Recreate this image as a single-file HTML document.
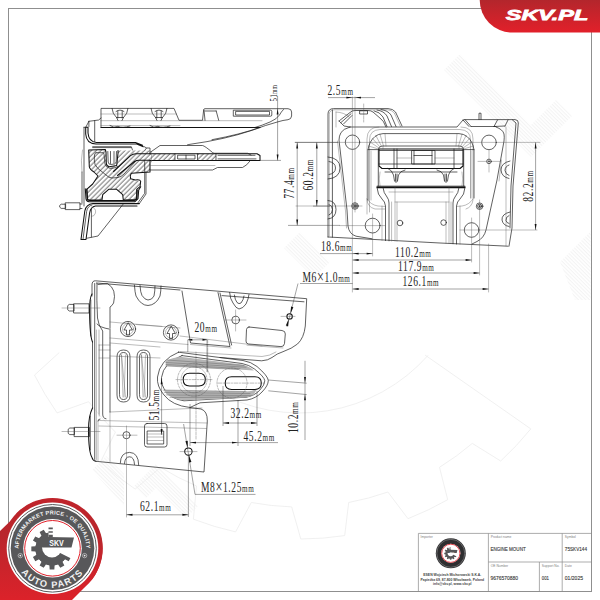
<!DOCTYPE html>
<html><head><meta charset="utf-8"><title>SKV 75SKV144 Engine Mount</title>
<style>
html,body{margin:0;padding:0;background:#fff;}
body{width:600px;height:600px;overflow:hidden;position:relative;font-family:"Liberation Sans",sans-serif;}
svg{position:absolute;left:0;top:0;display:block;}
.d{fill:none;stroke:#1c1c1c;stroke-width:0.7;stroke-linecap:round;stroke-linejoin:round;}
.t{fill:none;stroke:#555;stroke-width:0.4;stroke-linecap:round;stroke-linejoin:round;}
.h{fill:none;stroke:#111;stroke-width:1.05;stroke-linecap:round;stroke-linejoin:round;}
.dim{fill:none;stroke:#333;stroke-width:0.45;}
.ar{fill:#111;stroke:none;}
.dt{font-family:"Liberation Serif",serif;fill:#222;}
.wm{fill:none;stroke:#ececec;stroke-width:0.8;}
</style></head><body>
<svg width="600" height="600" viewBox="0 0 600 600">
<defs>
<linearGradient id="rg" x1="0" y1="0" x2="0" y2="1"><stop offset="0" stop-color="#b3262c"/><stop offset="1" stop-color="#e2202a"/></linearGradient>
<linearGradient id="rg2" x1="0" y1="498" x2="0" y2="600" gradientUnits="userSpaceOnUse"><stop offset="0" stop-color="#c0242b"/><stop offset="0.35" stop-color="#b8262c"/><stop offset="1" stop-color="#dc222a"/></linearGradient>
<pattern id="hat" width="3.400" height="3.400" patternUnits="userSpaceOnUse" patternTransform="rotate(45)"><line x1="1" y1="-1" x2="1" y2="5" stroke="#222" stroke-width="0.650"/></pattern>
<path id="arcTop" d="M18.700,548.300 A33.800,33.800 0 0 1 86.300,548.300"/>
<path id="arcBot" d="M13,548.3 A39.500,39.500 0 0 0 92,548.3"/>
</defs>
<!--WATERMARK-->
<g id="wm">
<clipPath id="fc"><rect x="9" y="9" width="581.500" height="581.500"/></clipPath>
<pattern id="wh" width="2.600" height="2.600" patternUnits="userSpaceOnUse" patternTransform="rotate(45)"><line x1="0" y1="0.600" x2="2.600" y2="0.600" stroke="#f0f0f0" stroke-width="0.800"/></pattern>
<g clip-path="url(#fc)">
<path class="wm" d="M425,355 L530.8,428.9 A297,297 0 0 1 500.7,461.0 L472.3,443.4 A265,265 0 0 1 439.5,467.3 L447.7,499.7 A297,297 0 0 1 408.0,518.7 L387.9,492.0 A265,265 0 0 1 348.7,502.5 L344.7,535.6 A297,297 0 0 1 300.8,539.0 L291.7,506.9 A265,265 0 0 1 251.3,502.5 L235.6,531.9 A297,297 0 0 1 193.4,519.2 L196.5,486.0 A265,265 0 0 1 160.5,467.3 L135.2,489.1 A297,297 0 0 1 100.5,462.0 L115.4,432.1 A265,265 0 0 1 88.6,401.7 L57.1,412.9 A297,297 0 0 1 34.5,375.1 L59.2,352.6 "/>
<path class="wm" d="M428.1,355.3 A171,171 0 0 1 214.5,390.1"/>
<path d="M444,70 L460,54 L531,125 L556,100 L572,116 L531,157 Z" fill="url(#wh)"/>
<path d="M560,262 L591,231 V300 L575,300 Z" fill="url(#wh)"/>
<path d="M300,232 L330,262 L314,278 L284,248 Z" fill="url(#wh)"/>
<path d="M92,470 L106,456 L124,474 L124,506 Z M134,486 L156,464 L198,506 L186,518 L156,488 L146,498 Z" fill="url(#wh)"/>
</g></g>
<!--/WATERMARK-->
<!--FRAME-->
<g id="frame">
<rect x="8.500" y="8.500" width="583" height="583" fill="none" stroke="#8f8f8f" stroke-width="1"/>
</g>
<!--VIEW1-->
<g id="view1">
<!-- rubber body hatched -->
<path d="M88.700,150 L105.300,149.500 L106,152 L106.300,163.300 L109.300,166.700 L116.700,165.500 L118,153.300 L118,150.500 L150,150.500 L150,172 L131.300,173.300 L130.700,178.700 L135.300,180 L140.700,181.300 L140,186.700 L136.700,189.300 L136.700,199.500 L123.300,200 L122.700,194.700 L116.700,189.300 L108.700,189.300 L102.700,194.700 L102,200 L87.300,200 L86.700,189.300 L92.700,184 L98,176 L94,172 L89.300,166.700 Z" fill="url(#hat)" stroke="none"/>
<path class="h" d="M88.700,150 L105.300,149.500 L106,152 L106.300,163.300 Q106.500,166.500 109.300,166.700 L116.700,165.500 L118,153.300 L118,150.500 M150,160.500 L150,172 L131.300,173.300 Q129.500,176 130.700,178.700 L135.300,180 Q140,179 140.700,181.300 L140,186.700 L136.700,189.300 L136.700,199.500 L123.300,200 L122.700,194.700 L116.700,189.300 L108.700,189.300 L102.700,194.700 L102,200 L87.300,200 L86.700,189.300 L92.700,184 L98,176 L94,172 Q89.500,169 89.300,166.700 L88.700,150"/>
<!-- cavity insert -->
<path class="d" d="M107.800,151.500 L108.200,162 Q108.500,164.500 110.500,164.500 L114.500,164 Q116,163.500 116.200,161.500 L116.500,151.500 M110.500,151.500 V163.500 M114,151.500 V163.200"/>
<!-- inner contour of upper-left arm -->
<path class="d" d="M96,152.700 H103.500 L104,154 L105,164 Q105.500,167 109.700,168.300 Q113,169 118,166.500"/>
<path class="d" d="M96,152.700 Q94.500,153 94.500,155 L94.300,160 Q94,165 98,168.500 L106,175 Q109,178 112,178 L118,177.500 Q121,177 124,174 L136,160.800 Q138.500,158.500 142,158.500"/>
<!-- diagonal metal band (white background) -->
<path d="M150,153.700 L136,153.700 Q133,153.700 130.500,155.700 L113.500,171.500 L117.500,175.500 L134.500,161.500 Q136.500,160.200 139,160.200 L150,160.200 Z" fill="#fff" stroke="none"/>
<path d="M150,153.700 L136,153.700 Q133,153.700 130.500,155.700 L113.500,171.500 L117.500,175.500 L134.500,161.500 Q136.500,160.200 139,160.200 L150,160.200 Z" fill="url(#hat)" stroke="none"/>
<path class="h" d="M150,153.700 L136,153.700 Q133,153.700 130.500,155.700 L113.500,171.500 M117.500,175.500 L134.500,161.500 Q136.500,160.200 139,160.200 L150,160.200"/>
<!-- upper cup sheet -->
<path class="h" d="M85.700,127.300 V134 Q86.300,143.600 96,144 H136.700 L143.300,146.700 M88,127.300 V133 Q88.700,141.800 96.500,142.400 H135.500 L142.500,145.200 M85.700,127.300 H88"/>
<path class="d" d="M92.700,146.700 H131.300 L132.500,150 M92.700,147.600 H131 M144,146.500 L146.500,148 H150 V153.500"/>
<path class="d" d="M146.500,148 L144.700,150.500"/>
<!-- back plate -->
<path class="d" d="M84,127.300 V206 M84,127.300 L85.700,127.300 M82,203 V172 M88.900,121.300 V126.500 M88.900,121.300 L98.700,120 L101,118 M86,126.800 L88.900,121.300 M94.700,120.600 V141.500"/>
<path class="t" d="M82.500,150 Q80.500,160 82,172"/>
<!-- top bracket -->
<path class="h" d="M101,127.500 H260"/>
<path class="d" d="M101,127.500 V108.400 H174 L179,120.300 H202.500 L203.700,109.500 Q204,108.700 205,108.700 H288 Q291.600,108.900 291.600,112 V116 Q291.300,119.300 288,119.700 Q283,120.200 278,121.800 Q266,125 252,130.300 Q225,139.500 190,144.300 L187.500,144.800"/>
<path class="d" d="M283.500,109.500 Q281,112 279.500,115 Q277,119 270,122 Q262,125.500 255,127.500 M260,127.500 Q240,134.500 212,139.700"/>
<path class="t" d="M101,114 H176.500 M101,120.700 H262 M101,125.600 H180"/>
<path class="d" d="M233.700,110.200 H270.500 Q271.800,110.200 271.800,111.500 V115 Q271.800,116.200 270.500,116.200 H233.700 Z M236,111.400 H269.500 V115 H236 Z"/>
<path class="d" d="M204,110 L205,120.300 M216.200,111 L218.700,120.300 M205,111 H216.200"/>
<!-- clips -->
<path class="d" d="M112,108.400 Q112.500,114 116.500,117.500 L118,120.500 M128,108.400 Q127.500,114 123.500,117.500 L122,120.500 M117.800,111 V118 M122.200,111 V118 M116,111.500 Q120,108.500 124,111.500 M116.500,117.500 H123.500"/>
<path class="d" d="M151,108.400 Q151.500,114 155.500,117.500 L157,120.500 M167,108.400 Q166.500,114 162.500,117.500 L161,120.500 M156.800,111 V118 M161.200,111 V118 M155,111.500 Q159,108.500 163,111.500 M155.500,117.500 H162.500"/>
<path class="d" d="M110,125.600 Q114,128.500 118,126.300 Q122,128.500 130,126 M150,125.600 Q154,128.500 158,126.300 Q162,128.500 170,126"/>
<!-- plate + covers -->
<path d="M150,153.750 H175 V160.500 H150 Z M197.500,153.750 H216 V160.500 H197.500 Z" fill="url(#hat)" stroke="none"/>
<path class="h" d="M150,153.750 H257 L260,155.500 V160.500 H150"/>
<path class="d" d="M175,153.750 V160.500 M197.500,153.750 V160.500 M216,153.750 V160.500 M178,155.200 H195 V159 H178 Z M186,155.200 V159 M218,155.300 H255 M218,158.900 H256"/>
<path class="d" d="M150,152.500 L160,145.500 H202.500 Q205,146 212.500,152.500 L214,153.250 H247.500 L251,155"/>
<path class="d" d="M150,170 H212.500 L217.500,167.500 H242.500 Q247,165.500 250,161"/>
<path class="t" d="M150,165.500 H215 M150,151.500 H151.500 V162 H150"/>
<!-- lower cup sheet -->
<path class="h" d="M85.300,188.700 L86,198.700 Q86.300,201.500 89,201.700 H135 L138,198.700 L138.700,190 L140.700,186.700 M86.900,189 L87.500,198.500 Q87.800,200.300 89.500,200.500 H134.500 L136.700,198 L137.300,190"/>
<!-- outer L bracket -->
<path class="d" d="M144.700,160.500 V193.300 L138,202.700 M146,172 V194 L139.300,203.600"/>
<path class="h" d="M139.300,203.600 H93 Q86,204.500 84.800,211 L81,239.500 H86 L89.600,213 Q90.500,207 95.500,206 H137"/>
<path class="d" d="M92,205 Q87.500,206 86.600,211.500 L83,239.500"/>
<path class="d" d="M123,204.400 L98,236 L86.500,238.300 M91.400,209 V237"/>
<path class="t" d="M91.400,207 Q96.500,208 95.500,213 Q94.500,216.500 91.400,216.500"/>
<!-- stud -->
<path class="d" d="M60,205.200 L61.200,204.200 H65.600 V208.400 H61.200 L60,207.400 Z M65.600,202.800 H80 V209.600 H65.600 Z M80,204 H82 M80,208.500 H82"/>
</g>
<!--/VIEW1-->
<!--VIEW2-->
<g id="view2">
<!-- outer back plate outline -->
<path class="d" d="M328,237 V114 Q328,108.800 333.500,108.600 H388 Q393,108.800 395.500,112 L402,126"/>
<path class="t" d="M329.300,236 V114.500 Q329.300,110 334,109.800 H387.500 Q392,110 394.300,113 L400.500,126.500"/>
<path class="d" d="M332.400,110 V237.200"/>
<path class="t" d="M336,112 V127 M336,112 Q345,112.500 349,117"/>
<path class="d" d="M328,237 L440,243 L508,246.200"/>
<!-- top-left gusset lines -->
<path class="d" d="M339,121 L350,112.500 Q352,110.500 355,110.500 H368 Q371,110.500 373,112 L381,119 Q384,121.500 385,125 L386,127"/>
<path class="d" d="M341,122.500 L351,113.800 M343.500,124 L352,115.500 M374,110.800 Q380,112 383,117 L387,126.500 M377,110 Q384,111 387,116 L391.500,126.500 M381,109.500 Q388,110.500 391,115 L396,126.500"/>
<path class="d" d="M339,121 L344,126 L350,127"/>
<path class="d" d="M360,110.800 H367.500 V114 H360 Z"/><path class="t" d="M363.700,104 V122" stroke-dasharray="3 1"/>
<!-- plate top line -->
<path class="d" d="M350,127 H457 L463,120 Q464,119.600 465,119.600 H515 Q518.500,119.800 518.300,123 L513,186 L512,228 L509,246.200"/>
<path class="d" d="M512.500,120 L516,123 L511,186 L510,228"/>
<path class="t" d="M506,127 V245.800"/>
<!-- right top details -->
<path class="d" d="M463,120 L469,126.500 M465,119.600 L471,126.500 M471,126.500 H496 M497.500,120 L494,126.500 M508,120 L505,126 M494,126.500 L505,126 M479,119.600 V113.200 H481 V119.600"/>
<!-- inner plate outline -->
<path class="d" d="M350,127 Q343,129 341,132.500 Q339,136 339,140 L347,210 L348,226 Q349,234 356,236.200 L372,238.800"/>
<path class="d" d="M496,127 Q503,129.500 504,134 Q504.500,137 504,141 L497,180 L486,230 Q484,238 477,241.500 L472,244"/>
<path class="t" d="M337.500,141 L345.500,211 L346.500,228 M499,181 L501.500,160"/>
<!-- holes -->
<circle class="d" cx="352.500" cy="142.200" r="7.200"/>
<circle class="d" cx="489" cy="142.400" r="7.300"/>
<circle class="d" cx="372.600" cy="225.600" r="7.400"/>
<circle class="d" cx="471.600" cy="230" r="7.300"/>
<circle class="d" cx="400" cy="223" r="2.800"/>
<circle class="d" cx="443.600" cy="222.600" r="2.800"/>
<circle class="d" cx="355" cy="206" r="3.300"/><circle class="d" cx="355" cy="206" r="2"/><circle cx="355" cy="206" r="1" fill="#222"/>
<circle class="d" cx="479.600" cy="206.200" r="3.300"/><circle class="d" cx="479.600" cy="206.200" r="2"/><circle cx="479.600" cy="206.200" r="1" fill="#222"/>
<circle class="d" cx="489" cy="161.400" r="2.300"/><circle cx="489" cy="161.400" r="0.800" fill="#222"/>
<!-- ears -->
<path class="d" d="M328,157 Q340,158 340,168 Q340,178 328,179 M329,161.500 Q335.500,162.500 335.500,168 Q335.500,173.500 329,174.500"/>
<path class="d" d="M328,200.500 Q336,201 336,209.500 Q336,218 328,219 M329,204.500 Q332.500,205.500 332.500,209.500 Q332.500,214 329,215"/>
<path class="d" d="M510,161 Q501,163 501,170 Q501.500,177 509,178.500 M509,165 Q505,166.500 505,170.500 Q505.500,174.500 509,175.500"/>
<path class="d" d="M510,212 Q501.500,214 502,220 Q503,225.500 509,226.500 M509,215.500 Q505.500,217 506,220.500 Q506.500,223 509,223.500"/>
<!-- embossed outer window -->
<path class="t" d="M367,214 V139 Q367,127 379,127 M461,127 Q473,127 473,139 V200 Q472,207 466,209 M367,199 Q367,207 375,209 L385,209"/>
<path class="t" d="M369.500,212 V140 Q369.500,130 380,129.500 H460 Q470.500,130 470.500,140 V198"/>
<!-- flared ring -->
<path class="d" d="M368,200 V150 Q369,141.500 375,136.500 Q378,134 383,133.600 H459 Q464,134 467,136.500 Q473,141.500 474,150 V198"/>
<path class="d" d="M368,149.600 H378.300 M474,149.600 H463.700"/>
<path class="d" d="M378.300,186 V150.500 Q378.300,146 383,146 H459 Q463.700,146 463.700,150.500 V186"/>
<path class="t" d="M368.500,146 L378.500,149 M370,142 L379,148 M372.500,138.500 L380,147 M376,135.800 L381.500,146.300 M380,134.200 L383.500,146 M385,133.600 L386,146 M473.500,146 L463.500,149 M472,142 L463,148 M469.500,138.500 L462,147 M466,135.800 L460.500,146.300 M462,134.200 L458.500,146 M457,133.600 L456,146"/>
<path class="t" d="M371,200 V151 M471,198 V151"/>
<!-- core block -->
<path class="h" d="M379,149 H463 V166 L460,168.500 H382 L379,166 Z"/>
<path class="d" d="M379,150.500 H463 M394,149 V168.500 M397,149 V168.500 M412,150.500 H435 V164 H412 Z M414,150.500 V164 M432,150.500 V164 M454,149 V168.500 M379,164 H463 M414,155.500 H432"/>
<path class="t" d="M383,146 V149 M459,146 V149 M397,158 H412 M435,158 H454"/>
<!-- clips below core -->
<path class="d" d="M385,172 H457 M388,168.500 Q392,170 393.500,175 L394.500,181 Q396,184 397.500,181 L398.500,175 Q400,171 405,170 M395.500,174 V181 M397,174 V181"/>
<path class="d" d="M454,168.500 Q450,170 448.500,175 L447.500,181 Q446,184 444.500,181 L443.500,175 Q442,171 437,170 M446.500,174 V181 M445,174 V181"/>
<path class="t" d="M380,172 Q378.500,179 380,186 M462,172 Q463.500,179 462,186"/>
<!-- base flange -->
<path class="h" d="M377,186.300 H465 M377,187.600 H465"/>
<path class="d" d="M377,187.600 Q377.500,195 382,199 Q385,201.500 385.500,206 V240.600 M465,187.600 Q464.500,195 460,199 Q457,201.500 456.500,206 V244"/>
<path class="d" d="M383,187.600 Q383.500,193 387,197 Q389,199.500 389,203 V240.800 M459,187.600 Q458.500,193 455,197 Q453,199.500 453,203 V243.700"/>
<path class="t" d="M389,192 H453 M395,202 H449 M395,187.600 V241 M391.600,202 V241 M397,202 V241.200 M449,187.600 V243.500 M451,202 V243.600 M446,202 V243.400 M460,206 V244.200 M382,206 V240.500"/>
<path class="t" d="M367,199 Q371,205 378,206 L385.500,206.500 M473,199 Q469,205 462,206 L456.500,206.500"/>
<!-- centerlines -->
<path class="t" d="M352.400,97 V292 M355,97 V212 M295,142.400 H540 M296,206 H362 M340,225.600 H385 M372.600,214 V256 M471.600,218 V262 M479.600,200 V275 M488.600,244 V292 M460,230 H537 M489,150 V172 M478,161.400 H500"/>
</g>
<!--/VIEW2-->
<!--VIEW3-->
<g id="view3">
<!-- outer outline -->
<path class="d" d="M92.500,342 V408 M92,296 V285 Q92,280.600 95.500,280.800 L306.700,298.700 L305.300,326 Q304,338 297.500,344 Q292,348.500 283,351.700 Q277,353.500 272,357.500 Q268,360.500 261.700,360.800 L220,357.500"/>
<path class="d" d="M94.700,283.500 V459.500 M96.400,283 L180,290 M222,295.600 L304,301.800"/>
<path class="d" d="M97,283.500 Q96.500,300 97.500,318 Q98.500,326 102.700,331 V414 Q102.700,418.500 106,418.800"/>
<path class="t" d="M96.400,330 V459.500 M99.200,345 V416"/>
<path class="h" d="M92,294 Q89.300,298 89.600,312 Q89.800,336 92.500,342"/>
<path class="d" d="M90.800,300 V336"/>
<path class="h" d="M92.500,408 Q88.500,416 88.500,430 Q88.600,452 92,457.500 Q92.500,460.500 96,461.300"/>
<path class="d" d="M90.300,416 V450"/>
<!-- studs -->
<path class="d" d="M68,305.400 L69.300,304.400 H74 V311 H69.300 L68,310 Z M74,303.800 H89 V313 H74 Z"/>
<path class="d" d="M68.500,429 L69.800,428 H74.500 V434.600 H69.800 L68.500,433.600 Z M74.500,427.400 H89.500 V436.600 H74.500 Z"/>
<path class="t" d="M62,308 H100 M62,431.500 H100"/>
<!-- top-left lobe -->
<path class="d" d="M98,284.500 L107.500,283.600 Q117,289 113.600,303 Q112,306 110,307 V328 M97,324 Q100,327.500 109,329 M110,329 V412"/>
<path class="t" d="M99,330 V414 M99,345 H110 M99,350 H110 M99,358 H110"/>
<!-- U slots top -->
<path class="d" d="M134.400,285 Q135,293 136,296 Q141,305.500 148,305.500 Q156,305 160,296 Q161,291 161,286 M140,285.500 Q140.500,293 142,295.500 Q145,300 148,300 Q152,300 154,296 Q155,291 155,286"/>
<path class="d" d="M229.600,292.400 Q230,299 233,303 Q236,308.500 239,309 Q243,308.500 246,304 Q248.500,299 249,294.500 M234.400,295 Q235,300 237,302.500 Q239,304.500 241,303 Q243.500,300 244,296"/>
<!-- round clips -->
<circle class="d" cx="128" cy="329" r="7.600"/><circle class="t" cx="128" cy="329" r="5.500"/>
<path class="d" d="M128,323 L124,330 H126.500 V335 H129.500 V330 H132 Z"/>
<circle class="d" cx="171" cy="332.500" r="7.600"/><circle class="t" cx="171" cy="332.500" r="5.500"/>
<path class="d" d="M171,326.500 L167,333.500 H169.500 V338.500 H172.500 V333.500 H175 Z"/>
<!-- rib lines -->
<path class="t" d="M110,322 L180,328 M110,338 L188,344.500 M110,343 L160,347 M136,324.500 L162,326.500 M110,412 L202,408"/>
<!-- vertical slots -->
<path class="d" d="M117,356.500 Q117,350 123.500,350 Q130,350 130,356.500 V395.500 Q130,402 123.500,402 Q117,402 117,395.500 Z M119.500,357 Q119.500,352.500 123.500,352.500 Q127.500,352.500 127.500,357 V395 Q127.500,399.500 123.500,399.500 Q119.500,399.500 119.500,395 Z"/>
<path class="d" d="M137,356.500 Q137,350 143.500,350 Q150,350 150,356.500 V395.500 Q150,402 143.500,402 Q137,402 137,395.500 Z M139.500,357 Q139.500,352.500 143.500,352.500 Q147.500,352.500 147.500,357 V395 Q147.500,399.500 143.500,399.500 Q139.500,399.500 139.500,395 Z"/>
<path class="t" d="M121.500,355 L123,397 M125.500,355 L124,397 M121.500,355 L125.500,397 M141.500,355 L143,397 M145.500,355 L144,397 M141.500,355 L145.500,397"/>
<!-- panel -->
<path class="d" d="M182,291 L190.500,343 L230,346.500 L218,292.500 M220,293 L231.600,345"/>
<path class="t" d="M190.500,344.500 L231,348"/>
<!-- crosshair hole -->
<circle class="d" cx="235.600" cy="320" r="3.800"/>
<path class="t" d="M225,320 H246 M235.600,310 V331"/>
<!-- rounded window -->
<path class="d" d="M249,327 L282,330.500 Q285.500,331 285.300,334 L284.500,343.500 Q284,346.800 281,346.600 L248.500,344 Q245.800,343.500 246,341 L246.500,329.500 Q246.800,327 249,327 Z"/>
<path class="t" d="M247,345.200 L283,348"/>
<!-- M6 hole -->
<circle class="h" cx="289.600" cy="316.400" r="2.700"/>
<path class="t" d="M281,316.400 H295"/>
<!-- plate lower contour lines -->
<path class="t" d="M180,336 L262,346 M180,351.500 L262,356.500 Q270,356 276,352 M110,356 L160,358"/>
<!-- tongue -->
<path class="d" d="M178.500,352.200 L243,360.500 Q251,361.800 257,366.500 Q268,376 268.300,380.500 Q268.300,385.500 262,392 Q256,398.500 247,400 L200,402.800 L190,407.500 Q172,405.500 164,395 Q156.500,386 157.500,377 Q159.500,360 178.500,352.200 Z"/>
<path class="d" d="M182,355.600 L242,363.500 Q249,364.800 254.500,369 Q264.500,377 264.800,380.800 Q264.800,385 259.500,390.500 Q254,396 246,397.200 L184,400.800 Q172,399 166.500,392 Q160.500,385 161.500,377.500 Q163.500,362.500 182,355.600 Z"/>
<path d="M165.500,361.500 Q172,357 182,357 L242,364.500 Q249,366 254,370.500 L238,369.500 L166,366 Z" fill="#b4b4b4" stroke="none"/>
<path d="M163.500,390 L246,391.500 Q252,391.500 257.500,388.500 L253,395.500 Q248,397.500 243,397.800 L186,400.300 Q174,399.500 167,394.500 Z" fill="#b4b4b4" stroke="none"/>
<path class="t" d="M167,360 L244,365.500 M166,362.500 L246,367.200 M166,364.500 L240,368.500 M166,366 L238,369.500 M163.500,390 L246,391.500 M164.500,392.500 L250,393.500 M166,395 L252,395.500 M170,397.500 L247,397"/>
<!-- oblong holes -->
<path class="h" d="M189.600,373.200 H198.900 Q205.300,373.200 205.300,379.600 Q205.300,386 198.900,386 H189.600 Q183.200,386 183.200,379.600 Q183.200,373.200 189.600,373.200 Z"/>
<path class="h" d="M231.600,376.700 H254.900 Q261.300,376.700 261.300,383.100 Q261.300,389.500 254.900,389.500 H231.600 Q225.200,389.500 225.200,383.100 Q225.200,376.700 231.600,376.700 Z"/>
<circle class="t" cx="194" cy="379.800" r="16.500" stroke-dasharray="2 1.300"/>
<circle class="t" cx="194" cy="379.800" r="13" stroke-dasharray="2 1.300"/>
<circle class="t" cx="232" cy="383" r="15" stroke-dasharray="2 1.300"/>
<path class="t" d="M176,379.600 H212 M218,383.100 H266" stroke-dasharray="4 1.500 1 1.500"/>
<path class="t" d="M196,352 V440 M207.700,340 V372" stroke-dasharray="3 1.200"/>
<!-- lower plate -->
<path class="d" d="M96,461.300 L204,472 L207.300,421 Q207.500,411 201,409 L190,407.500"/>
<path class="t" d="M99,420.500 L207.300,423 M99,426 L206.500,428.500 M110,412 V461.500 M98,421 V460.500"/>
<path class="d" d="M98,421 Q98,419 100,419"/>
<circle class="d" cx="126.500" cy="435.200" r="3.600"/>
<path class="t" d="M117,435.200 H137 M126.500,426 V517"/>
<path class="d" d="M120.300,463 Q120.500,452.600 129.500,452.400 Q138.500,452.600 138.700,465 M124.500,463.500 Q125,456.800 129.500,456.800 Q134.200,456.800 134.500,464.500"/>
<!-- rect clip -->
<path class="d" d="M147,423.500 H164.500 Q167,423.500 167,426 V444.500 Q167,447 164.500,447 H147 Q144.500,447 144.500,444.500 V426 Q144.500,423.500 147,423.500 Z M147.500,431 H163.700 V444 H147.500 Z"/>
<path class="t" d="M147.500,434 H163.500 M147.500,437 H163.500 M147.500,440.500 H163.500"/>
<!-- M8 hole -->
<circle class="h" cx="188.400" cy="451.600" r="3.700"/>
<path class="t" d="M180,451.600 H197"/>
</g>
<!--/VIEW3-->
<!--DIMS-->
<g id="dims">
<path class="dim" d="M277.600,96 V160.400 M260,160.400 H281"/>
<path class="ar" d="M277.60,108.60 L278.55,114.60 L276.65,114.60 Z"/>
<path class="ar" d="M277.60,160.40 L276.65,154.40 L278.55,154.40 Z"/>
<text class="dt" transform="translate(276.60,101.50) rotate(-90) scale(0.720,1)" font-size="9.6" letter-spacing="0.60">51<tspan font-size="7.4">mm</tspan></text>
<path class="dim" d="M295,142.400 H338 M297.200,142.400 V225.400 M316.800,142.400 V206.100 M288,225.400 H340 M313,206.100 H330"/>
<path class="ar" d="M297.20,142.40 L298.15,148.40 L296.25,148.40 Z"/>
<path class="ar" d="M316.80,142.40 L317.75,148.40 L315.85,148.40 Z"/>
<path class="ar" d="M297.20,225.40 L296.25,219.40 L298.15,219.40 Z"/>
<path class="ar" d="M316.80,206.10 L315.85,200.10 L317.75,200.10 Z"/>
<text class="dt" transform="translate(294.00,198.80) rotate(-90) scale(0.680,1)" font-size="14.0" letter-spacing="0.90">77.4<tspan font-size="10.5">mm</tspan></text>
<text class="dt" transform="translate(313.40,190.50) rotate(-90) scale(0.680,1)" font-size="14.0" letter-spacing="0.90">60.2<tspan font-size="10.5">mm</tspan></text>
<path class="dim" d="M328,97.600 H375"/>
<path class="ar" d="M352.40,97.60 L346.40,98.55 L346.40,96.65 Z"/>
<path class="ar" d="M355.00,97.60 L361.00,96.65 L361.00,98.55 Z"/>
<text class="dt" transform="translate(327.50,95.30) scale(0.680,1)" font-size="14.0" letter-spacing="0.90">2.5<tspan font-size="10.5">mm</tspan></text>
<path class="dim" d="M535.600,142.400 V230"/>
<path class="ar" d="M535.60,142.40 L536.55,148.40 L534.65,148.40 Z"/>
<path class="ar" d="M535.60,230.00 L534.65,224.00 L536.55,224.00 Z"/>
<text class="dt" transform="translate(533.00,201.80) rotate(-90) scale(0.680,1)" font-size="14.0" letter-spacing="0.90">82.2<tspan font-size="10.5">mm</tspan></text>
<path class="dim" d="M320,253.600 H372.600"/>
<path class="ar" d="M352.60,253.60 L358.60,252.65 L358.60,254.55 Z"/>
<path class="ar" d="M372.60,253.60 L366.60,254.55 L366.60,252.65 Z"/>
<text class="dt" transform="translate(321.00,251.30) scale(0.680,1)" font-size="14.0" letter-spacing="0.90">18.6<tspan font-size="10.5">mm</tspan></text>
<path class="dim" d="M352.600,260 H471.600 M352.600,273 H479.600 M352.600,289 H488.600"/>
<path class="ar" d="M352.60,260.00 L358.60,259.05 L358.60,260.95 Z"/>
<path class="ar" d="M471.60,260.00 L465.60,260.95 L465.60,259.05 Z"/>
<path class="ar" d="M352.60,273.00 L358.60,272.05 L358.60,273.95 Z"/>
<path class="ar" d="M479.60,273.00 L473.60,273.95 L473.60,272.05 Z"/>
<path class="ar" d="M352.60,289.00 L358.60,288.05 L358.60,289.95 Z"/>
<path class="ar" d="M488.60,289.00 L482.60,289.95 L482.60,288.05 Z"/>
<text class="dt" transform="translate(395.00,257.30) scale(0.680,1)" font-size="14.0" letter-spacing="0.90">110.2<tspan font-size="10.5">mm</tspan></text>
<text class="dt" transform="translate(398.00,270.60) scale(0.680,1)" font-size="14.0" letter-spacing="0.90">117.9<tspan font-size="10.5">mm</tspan></text>
<text class="dt" transform="translate(402.40,286.40) scale(0.680,1)" font-size="14.0" letter-spacing="0.90">126.1<tspan font-size="10.5">mm</tspan></text>
<path class="dim" d="M300,283.500 H352.600"/>
<text class="dt" transform="translate(302.50,281.50) scale(0.680,1)" font-size="14.0" letter-spacing="0.90">M6<tspan style="font-size:18px" dy="1.2">×</tspan><tspan dy="-1.2">1.0</tspan><tspan font-size="10.5">mm</tspan></text>
<path class="dim" d="M187.800,339.800 H207 M187.800,339.800 V352 M207,339.800 V372"/>
<path class="ar" d="M187.80,339.80 L192.30,338.85 L192.30,340.75 Z"/>
<path class="ar" d="M207.00,339.80 L202.50,340.75 L202.50,338.85 Z"/>
<text class="dt" transform="translate(194.50,331.80) scale(0.680,1)" font-size="14.0" letter-spacing="0.90">20<tspan font-size="10.5">mm</tspan></text>
<path class="dim" d="M161.600,378.300 V435"/>
<path class="ar" d="M161.60,378.30 L162.55,384.30 L160.65,384.30 Z"/>
<path class="ar" d="M161.60,435.00 L160.65,429.00 L162.55,429.00 Z"/>
<text class="dt" transform="translate(158.60,420.50) rotate(-90) scale(0.680,1)" font-size="14.0" letter-spacing="0.90">51.5<tspan font-size="10.5">mm</tspan></text>
<path class="dim" d="M223,423 H257 M223,386 V426 M257,391 V426"/>
<path class="ar" d="M223.00,423.00 L229.00,422.05 L229.00,423.95 Z"/>
<path class="ar" d="M257.00,423.00 L251.00,423.95 L251.00,422.05 Z"/>
<text class="dt" transform="translate(230.50,418.30) scale(0.680,1)" font-size="14.0" letter-spacing="0.90">32.2<tspan font-size="10.5">mm</tspan></text>
<path class="dim" d="M190,442.600 H278 M238,400 V446 M190,404 V446"/>
<path class="ar" d="M190.00,442.60 L196.00,441.65 L196.00,443.55 Z"/>
<path class="ar" d="M238.00,442.60 L232.00,443.55 L232.00,441.65 Z"/>
<text class="dt" transform="translate(243.50,441.00) scale(0.680,1)" font-size="14.0" letter-spacing="0.90">45.2<tspan font-size="10.5">mm</tspan></text>
<path class="dim" d="M305,360.800 V440 M268.300,380 L306.700,383.200 M268.300,390.800 L306.700,394.600"/>
<path class="ar" d="M305.00,383.00 L304.05,377.00 L305.95,377.00 Z"/>
<path class="ar" d="M305.00,394.30 L305.95,400.30 L304.05,400.30 Z"/>
<text class="dt" transform="translate(297.60,433.00) rotate(-90) scale(0.680,1)" font-size="14.0" letter-spacing="0.90">10.2<tspan font-size="10.5">mm</tspan></text>
<path class="dim" d="M126.500,514.800 H188.400 M188.400,455 V517"/>
<path class="ar" d="M126.50,514.80 L132.50,513.85 L132.50,515.75 Z"/>
<path class="ar" d="M188.40,514.80 L182.40,515.75 L182.40,513.85 Z"/>
<text class="dt" transform="translate(140.00,510.80) scale(0.680,1)" font-size="14.0" letter-spacing="0.90">62.1<tspan font-size="10.5">mm</tspan></text>
<path class="dim" d="M183.600,424 L195,494.400 H255.500"/>
<path class="ar" d="M187.80,447.90 L185.40,441.21 L187.77,440.80 Z"/>
<path class="ar" d="M189.00,455.30 L191.40,461.99 L189.03,462.40 Z"/>
<text class="dt" transform="translate(201.00,492.20) scale(0.680,1)" font-size="14.0" letter-spacing="0.90">M8<tspan style="font-size:18px" dy="1.2">×</tspan><tspan dy="-1.2">1.25</tspan><tspan font-size="10.5">mm</tspan></text>
<path class="dim" d="M298,283.500 L287,327"/>
<path class="ar" d="M290.50,313.70 L291.03,306.62 L293.36,307.20 Z"/>
<path class="ar" d="M288.70,319.10 L288.17,326.18 L285.84,325.60 Z"/>
</g>
<!--/DIMS-->
<g id="titleblock">
<g fill="none" stroke="#8a8a8a" stroke-width="0.700">
<path d="M418.400,591.500 V533.400 H591.500"/>
<path d="M488.400,533.400 V591.500 M488.400,562 H591.500 M539.400,562 V591.500 M562.200,533.400 V591.500"/>
</g>
<g font-family="Liberation Sans, sans-serif" font-size="3.300" fill="#808080">
<text x="420.600" y="537.900">Importer</text>
<text x="490.800" y="538.200">Product name</text>
<text x="564.800" y="538.200">Symbol</text>
<text x="490.800" y="567.300">OE Number</text>
<text x="541.800" y="567.300">Support No.</text>
<text x="564.800" y="567.300">Date</text>
</g>
<g font-family="Liberation Sans, sans-serif" font-size="4.900" fill="#3a3a3a" stroke="#3a3a3a" stroke-width="0.120">
<text x="490.400" y="551.100" textLength="35.300" lengthAdjust="spacingAndGlyphs">ENGINE MOUNT</text>
<text x="564.800" y="551.100" textLength="22.200" lengthAdjust="spacingAndGlyphs">75SKV144</text>
<text x="490.400" y="580.300" textLength="27.600" lengthAdjust="spacingAndGlyphs">9676570880</text>
<text x="541.800" y="580.300" textLength="7.200" lengthAdjust="spacingAndGlyphs">001</text>
<text x="564.800" y="580.300" textLength="18.200" lengthAdjust="spacingAndGlyphs">01/2025</text>
</g>
<g font-family="Liberation Sans, sans-serif" font-size="3.300" font-weight="bold" fill="#444" text-anchor="middle">
<text x="452.300" y="575.500" textLength="58" lengthAdjust="spacingAndGlyphs">ESEN Wojciech Michorowski S.K.A.</text>
<text x="452.300" y="580.600" textLength="63.500" lengthAdjust="spacingAndGlyphs">Papieżka 69, 87-800 Włocławek, Poland</text>
<text x="452.300" y="585.400" textLength="38.500" lengthAdjust="spacingAndGlyphs">info@skv.pl, www.skv.pl</text>
</g>
<g id="minibadge">
<circle cx="450.800" cy="553.300" r="15" fill="#2e2e30"/>
<circle cx="450.800" cy="553.300" r="14" fill="none" stroke="#bbb" stroke-width="0.400"/>
<circle cx="450.800" cy="553.300" r="9.600" fill="#fff"/>
<circle cx="450.800" cy="553.300" r="9.100" fill="none" stroke="#e0202a" stroke-width="0.800"/>
<use href="#gearlogo" transform="translate(450.800,553.300) scale(0.310) translate(-52.500,-548.300)"/>
</g>
</g>
<!--TITLEBLOCK-->
<g id="banner">
<path d="M479.700,0 H600 V32.500 H512 A32.300,32.500 0 0 1 479.700,0 Z" fill="url(#rg)"/>
<text x="505.800" y="19.900" font-family="Liberation Sans, sans-serif" font-weight="bold" font-style="italic" font-size="15.400" fill="#fff" stroke="#fff" stroke-width="0.800" textLength="82.500" lengthAdjust="spacingAndGlyphs">SKV.PL</text>
</g>
<!--BANNER-->
<g id="badge">
<path d="M0,531 L14,517.500 Q16,515.300 17,513 A50.300,50.300 0 0 1 95.500,574.500 Q93,579 89,583 L72,600 H0 Z" fill="url(#rg2)"/>
<circle cx="52.500" cy="548.300" r="50.300" fill="url(#rg2)"/>
<circle cx="52.500" cy="548.300" r="45.800" fill="#fff"/>
<circle cx="52.500" cy="548.300" r="43.800" fill="none" stroke="#5b5b5d" stroke-width="1"/>
<circle cx="52.500" cy="548.300" r="41.800" fill="#58585a"/>
<circle cx="52.500" cy="548.300" r="29.300" fill="#fff"/>
<circle cx="52.500" cy="548.300" r="27.800" fill="none" stroke="#e0202a" stroke-width="1"/>
<text font-family="Liberation Sans, sans-serif" font-weight="bold" font-size="5.600" fill="#f2f2f2" letter-spacing="0.200"><textPath href="#arcTop" startOffset="50%" text-anchor="middle">AFTERMARKET PRICE - OE QUALITY</textPath></text>
<text font-family="Liberation Sans, sans-serif" font-weight="bold" font-size="9.200" fill="#f2f2f2" letter-spacing="1.300"><textPath href="#arcBot" startOffset="50%" text-anchor="middle">AUTO PARTS</textPath></text>
</g>
<g id="gearlogo">
<clipPath id="gl"><circle cx="52.500" cy="548.300" r="26.800"/></clipPath>
<g clip-path="url(#gl)">
<circle cx="52.0" cy="548.8" r="16.6" fill="#58585a"/>
<path d="M68.40,546.20 L72.67,546.45 L72.67,551.15 L68.40,551.40 L67.50,554.75 L71.07,557.09 L68.72,561.17 L64.90,559.25 L62.45,561.70 L64.37,565.52 L60.29,567.87 L57.95,564.30 L54.60,565.20 L54.35,569.47 L49.65,569.47 L49.40,565.20 L46.05,564.30 L43.71,567.87 L39.63,565.52 L41.55,561.70 L39.10,559.25 L35.28,561.17 L32.93,557.09 L36.50,554.75 L35.60,551.40 L31.33,551.15 L31.33,546.45 L35.60,546.20 L36.50,542.85 L32.93,540.51 L35.28,536.43 L39.10,538.35 L41.55,535.90 L39.63,532.08 L43.71,529.73 L46.05,533.30 L49.40,532.40 L49.65,528.13 L54.35,528.13 L54.60,532.40 L57.95,533.30 L60.29,529.73 L64.37,532.08 L62.45,535.90 L64.90,538.35 L68.72,536.43 L71.07,540.51 L67.50,542.85 Z" fill="#58585a"/>
<path d="M48.500,548 V524 H78 V563 L75.17,560.60 L59.13,552.43 Z" fill="#fff"/>
<circle cx="52" cy="547.500" r="10" fill="#fff"/>
<path d="M48.500,537 L74,537.500 L71.500,547.500 H40 V537 Z" fill="#58585a"/>
<path d="M48.500,527.600 h4.300 v1.600 h-4.300 z M48.500,531.200 h4.300 v1.600 h-4.300 z M48.500,534.800 h4.300 v2.400 h-4.300 z" fill="#58585a"/>
<text x="49.300" y="546" font-family="Liberation Sans, sans-serif" font-weight="bold" font-size="8.200" fill="#fff" textLength="14.500" lengthAdjust="spacingAndGlyphs">SKV</text>
</g></g>
<g fill="none" stroke="#f2f2f2" stroke-width="0.500"><circle cx="20.300" cy="555.600" r="2.200"/><circle cx="84.600" cy="555.600" r="2.200"/></g>
<g fill="#f2f2f2"><circle cx="20.300" cy="555.600" r="0.900"/><circle cx="84.600" cy="555.600" r="0.900"/></g>
<!--BADGE-->
</svg>
</body></html>
